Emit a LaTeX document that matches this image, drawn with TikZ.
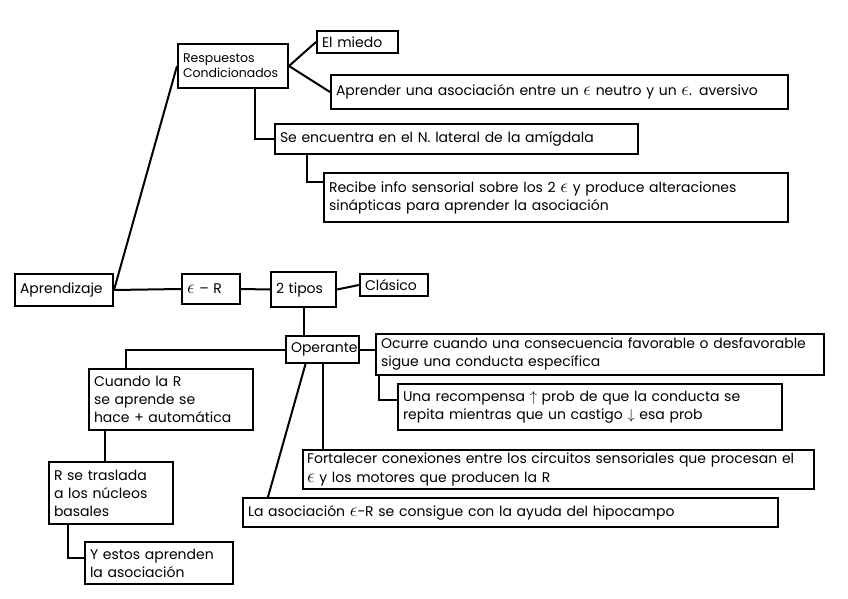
\documentclass[tikz,border=0pt]{standalone}
\usepackage{fontspec}
\setmainfont[WordSpace=1.2]{Poppins}
\usepackage{amssymb}
\newcommand{\estim}{\scalebox{1.35}{$\epsilon$}}

\begin{document}
\begin{tikzpicture}[x=1pt,y=-1pt,line width=2pt,
		caja/.style 2 args={draw,anchor=north west,text width=#1,minimum height=#2,inner xsep=5pt,inner ysep=0pt,align=left,font=\fontsize{14}{18}\selectfont}]
		\useasboundingbox (0,0) rectangle (848,599);
		% rama superior
		\node[caja={88pt}{32pt}] (apr) at (14,273) {Aprendizaje};
		\node[caja={100pt}{44pt},font=\fontsize{12.5}{15}\selectfont] (resp) at (177,43) {Respuestos\\Condicionados};
		\node[caja={71pt}{22pt}] (miedo) at (316,30) {El miedo};
		\node[caja={447pt}{34pt}] (aprender) at (330,74) {Aprender una asociación entre un \estim{} neutro y un \estim. aversivo};
		\node[caja={353pt}{30pt}] (encuentra) at (274,123) {Se encuentra en el N. lateral de la amígdala};
		\node[caja={454pt}{49pt}] (recibe) at (323,172) {Recibe info sensorial sobre los 2 \estim{} y produce alteraciones\\sinápticas para aprender la asociación};
		
		% rama E-R
		\node[caja={48pt}{30pt}] (er) at (181,273) {\estim{} -- R};
		\node[caja={55pt}{35pt}] (tipos) at (270,271) {2 tipos};
		\node[caja={58pt}{22pt}] (clasico) at (359,273) {Clásico};
		\node[caja={63pt}{27pt}] (oper) at (285,335) {Operante};
		\node[caja={438pt}{41pt}] (ocurre) at (375,333) {Ocurre cuando una consecuencia favorable o desfavorable\\sigue una conducta específica};
		\node[caja={374pt}{46pt}] (una) at (397,383) {Una recompensa $\uparrow$ prob de que la conducta se\\repita mientras que un castigo $\downarrow$ esa prob};
		\node[caja={503pt}{39pt},inner xsep=4pt,font=\fontsize{14}{19}\selectfont] (fort) at (302,449) {Fortalecer conexiones entre los circuitos sensoriales que procesan el\\\estim{} y los motores que producen la R};
		\node[caja={525pt}{29pt}] (asoc) at (242,497) {La asociación \estim-R se consigue con la ayuda del hipocampo};
		\node[caja={154pt}{61pt}] (cuando) at (88,368) {Cuando la R\\se aprende se\\hace + automática};
		\node[caja={114pt}{62pt}] (traslada) at (48,461) {R se traslada\\a los núcleos\\basales};
		\node[caja={138pt}{42pt}] (estos) at (84,541) {Y estos aprenden\\la asociación};
		
		\draw (apr.east)--(er.west);
		\draw (apr.east)--(resp.west);
		\draw (resp.east)--(miedo.west);
		\draw (resp.east)--(aprender.west);
		\draw ([xshift=22pt]resp.south) |- (encuentra.west);
		\draw ([xshift=33pt]encuentra.south west) |- ([yshift=16pt]recibe.west);
		\draw (er.east)--(tipos.west);
		\draw (tipos.east)--(clasico.west);
		\draw (tipos.south)--(tipos.south |- oper.north);
		\draw (oper.east)--(oper.east -| ocurre.west);
		\draw ([xshift=4pt]ocurre.south west) |- ([yshift=7pt]una.west);
		\draw (oper.west) -| ([xshift=38pt]cuando.north west);
		\draw (oper.south)--(oper.south |- fort.north);
		\draw ([xshift=-17pt]oper.south)--([xshift=26pt]asoc.north west);
		\draw ([xshift=17pt]cuando.south west)--([xshift=17pt]cuando.south west |- traslada.north);
		\draw ([xshift=20pt]traslada.south west) |- ([yshift=5pt]estos.west);
	\end{tikzpicture}
\end{document}
